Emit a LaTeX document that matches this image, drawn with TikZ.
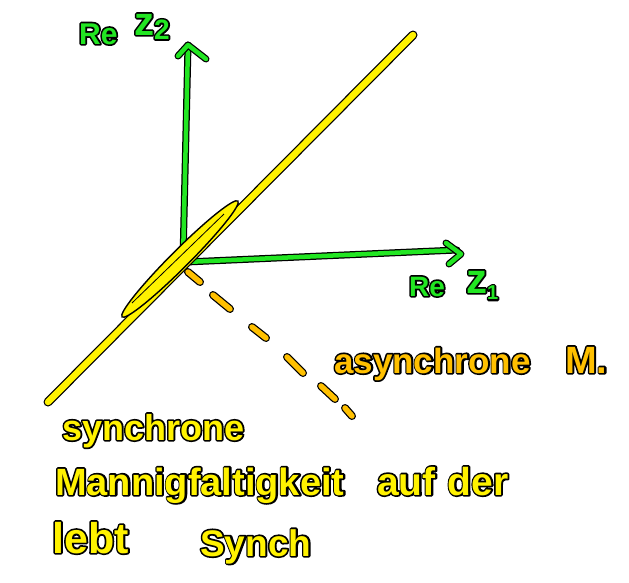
\documentclass[tikz,border=0pt]{standalone}
\usepackage{fontspec}
\setmainfont{Liberation Sans}
\definecolor{hgreen}{HTML}{22E622}
\definecolor{hyellow}{HTML}{FFF200}
\definecolor{horange}{HTML}{FFC000}
\tikzset{
  gline/.style={draw=hgreen, line width=4.5pt, line cap=round, line join=round,
    preaction={draw=black, line width=7pt, line cap=round, line join=round}},
  yline/.style={draw=hyellow, line width=6.5pt, line cap=round, line join=round,
    preaction={draw=black, line width=9pt, line cap=round, line join=round}},
  oline/.style={draw=horange, line width=5.5pt, line cap=round, line join=round,
    preaction={draw=black, line width=8pt, line cap=round, line join=round}},
  txt/.style={inner sep=0pt, anchor=base west},
}
\newcommand{\outl}[1]{\special{pdf:literal direct 0 0 0 RG 1 j 2 Tr 3.4 w}#1\special{pdf:literal direct 0 Tr}}
\newcommand{\otext}[5]{%
  \node[txt, font=\bfseries\fontsize{#4}{#4}\selectfont, text=black] (#1o) at (#2) {\outl{#5}};
  \node[txt, font=\bfseries\fontsize{#4}{#4}\selectfont, text=#3] (#1) at (#2) {#5};}
\begin{document}
\begin{tikzpicture}[x=1pt, y=-1pt]
\useasboundingbox (0,0) rectangle (629,582);
% axes
\coordinate (o) at (183,260);
\coordinate (top) at (188,45);
\coordinate (right) at (457,250);
\draw[gline] (o) -- (top);
\draw[gline] (178,56) -- (top) -- (206,59);
\draw[gline] (186,262) -- (right);
\draw[gline] (446,243) -- (461,254) -- (449,264);
% synchronous manifold
\coordinate (ya) at (48,402);
\coordinate (yb) at (413,35);
\draw[yline] (ya) -- (yb);
\draw[black, fill=hyellow, line width=1.4pt] (180,259) ellipse [x radius=82pt, y radius=9pt, rotate=45];
\draw[black, line width=0.8pt] (132,303) -- (224,214);
% asynchronous direction (dashes)
\draw[oline] (188,272) -- (200,282);
\draw[oline] (213,295) -- (230,309);
\draw[oline] (252,327) -- (266,338);
\draw[oline] (287,357) -- (303,373);
\draw[oline] (321,386) -- (335,399);
\draw[oline] (345,408) -- (352,416);
% labels
\otext{re2}{79,44}{hgreen}{30}{Re}
\otext{z2}{134,35}{hgreen}{40}{z\raisebox{-0.2ex}{\fontsize{28}{28}\selectfont 2}}
\otext{re1}{409,296}{hgreen}{28}{Re}
\otext{z1}{466,293}{hgreen}{42}{z\raisebox{-0.3ex}{\fontsize{20}{20}\selectfont 1}}
\otext{asy}{334,373}{horange}{35}{asynchrone}
\otext{asyM}{565,373}{horange}{38}{M.}
\otext{syn}{62,440}{hyellow}{36}{synchrone}
\otext{mf}{55,495}{hyellow}{38}{Mannigfaltigkeit}
\otext{aufder}{377,495}{hyellow}{39}{auf\hspace{12pt}der}
\otext{lebt}{52,553}{hyellow}{43}{lebt}
\otext{synch}{200,556}{hyellow}{37}{Synch}
\end{tikzpicture}
\end{document}
